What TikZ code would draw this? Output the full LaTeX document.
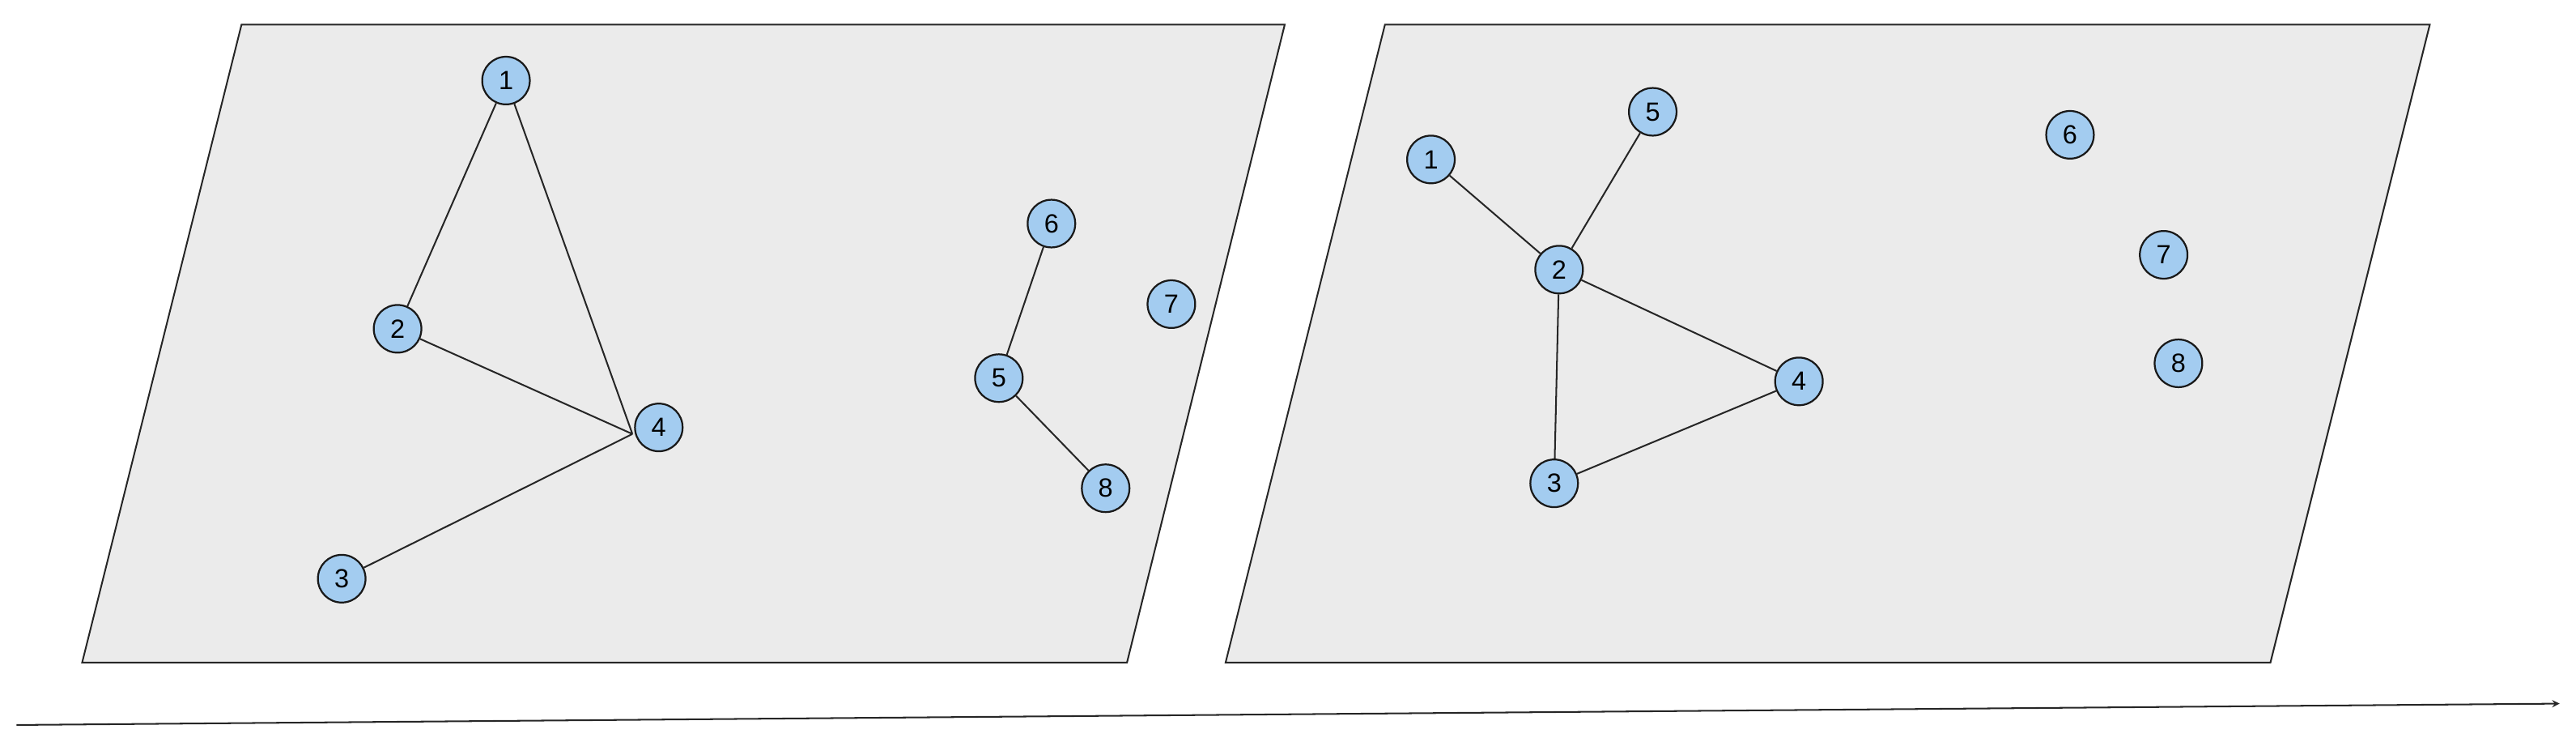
\documentclass[tikz,border=0pt]{standalone}
\usepackage{fontspec}
\setmainfont{Liberation Sans}
\begin{document}
\begin{tikzpicture}[x=1pt,y=-1pt,
  v/.style={circle,draw=black!90,fill=nodeblue,minimum size=29pt,inner sep=0pt,line width=1.1pt,font=\fontsize{16}{16}\selectfont},
  e/.style={draw=black!85,line width=1pt},
  pane/.style={draw=black!85,fill=panegray,line width=1pt}]
\definecolor{nodeblue}{HTML}{A3CCF0}
\definecolor{panegray}{HTML}{EBEBEB}
\useasboundingbox (0,0) rectangle (1568,459);
\draw[pane] (147,15) -- (782,15) -- (686,403) -- (50,403) -- cycle;
\draw[pane] (843,15) -- (1479,15) -- (1382,403) -- (746,403) -- cycle;
\coordinate (s) at (10,441); \coordinate (t) at (1558,428);
\draw[e,-stealth] (s) -- (t);
% left
\node[v] (a1) at (308,49) {1};
\node[v] (a2) at (242,200) {2};
\node[v] (a4) at (401,260) {4};
\node[v] (a3) at (208,352) {3};
\node[v] (a6) at (640,136) {6};
\node[v] (a7) at (713,185) {7};
\node[v] (a5) at (608,230) {5};
\node[v] (a8) at (673,297) {8};
\coordinate (a4w) at ([shift={(-1,4)}]a4.west);
\draw[e] (a1)--(a2) (a1)--(a4w) (a2)--(a4w) (a4w)--(a3) (a6)--(a5) (a5)--(a8);
% right
\node[v] (b1) at (871,97) {1};
\node[v] (b5) at (1006,68) {5};
\node[v] (b2) at (949,164) {2};
\node[v] (b4) at (1095,232) {4};
\node[v] (b3) at (946,294) {3};
\node[v] (b6) at (1260,82) {6};
\node[v] (b7) at (1317,155) {7};
\node[v] (b8) at (1326,221) {8};
\draw[e] (b1)--(b2) (b5)--(b2) (b2)--(b4) (b2)--(b3) (b3)--(b4);
\end{tikzpicture}
\end{document}
